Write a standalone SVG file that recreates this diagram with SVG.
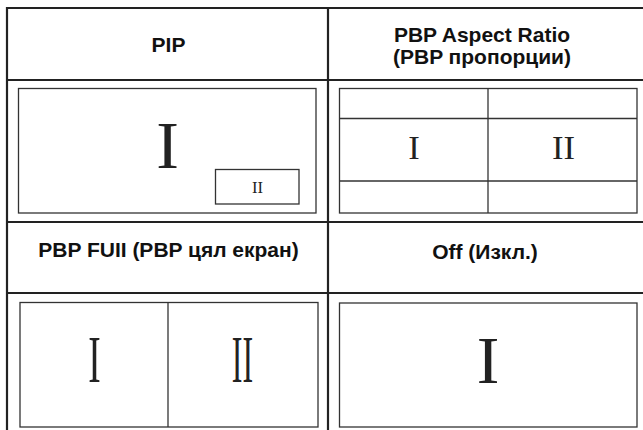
<svg xmlns="http://www.w3.org/2000/svg" width="643" height="430" viewBox="0 0 643 430">
  <style>
    .grid { stroke: #222; stroke-width: 2.2; fill: none; }
    .box { stroke: #333; stroke-width: 1.3; fill: #fff; }
    .hdr { font-family: "Liberation Sans", Arial, sans-serif; font-weight: bold; font-size: 21px; fill: #111; text-anchor: middle; }
    .rom { font-family: "Liberation Serif", "Times New Roman", serif; fill: #222; text-anchor: middle; }
  </style>
  <rect width="643" height="430" fill="#fff"/>
  <g id="grid" class="grid">
    <line x1="7" y1="8" x2="643" y2="8"/>
    <line x1="7" y1="80" x2="643" y2="80"/>
    <line x1="7" y1="222" x2="643" y2="222"/>
    <line x1="7" y1="293" x2="643" y2="293"/>
    <line x1="7" y1="7" x2="7" y2="430"/>
    <line x1="328" y1="7" x2="328" y2="430"/>
  </g>
  <g id="pip">
    <text class="hdr" x="168.5" y="52" font-size="20">PIP</text>
    <rect class="box" x="18.5" y="88.5" width="297.5" height="124.5"/>
    <text class="rom" x="167.5" y="168" font-size="68">I</text>
    <rect class="box" x="215.5" y="169.5" width="83.5" height="34.5"/>
    <text class="rom" x="257.5" y="193" font-size="16.5">II</text>
  </g>
  <g id="pbp-aspect">
    <text class="hdr" x="482" y="42">PBP Aspect Ratio</text>
    <text class="hdr" x="482" y="64">(PBP пропорции)</text>
    <rect class="box" x="339.5" y="88.5" width="297.5" height="124.5"/>
    <line class="box" x1="488" y1="88.5" x2="488" y2="213"/>
    <line class="box" x1="339.5" y1="118.5" x2="637" y2="118.5"/>
    <line class="box" x1="339.5" y1="181" x2="637" y2="181"/>
    <text class="rom" x="414" y="159" font-size="34.5">I</text>
    <text class="rom" x="563.5" y="159" font-size="34.5">II</text>
  </g>
  <g id="pbp-full">
    <text class="hdr" x="168.5" y="257">PBP FUII (PBP цял екран)</text>
    <rect class="box" x="20" y="302.5" width="298" height="124.5"/>
    <line class="box" x1="168" y1="302.5" x2="168" y2="427"/>
    <text class="rom" font-size="68" transform="translate(94.5 382) scale(0.55 1)">I</text>
    <text class="rom" font-size="68" transform="translate(242.5 382) scale(0.47 1)">II</text>
  </g>
  <g id="off">
    <text class="hdr" x="485" y="259">Off (Изкл.)</text>
    <rect class="box" x="339.5" y="303" width="297.5" height="124"/>
    <text class="rom" x="488" y="383" font-size="68">I</text>
  </g>
</svg>
